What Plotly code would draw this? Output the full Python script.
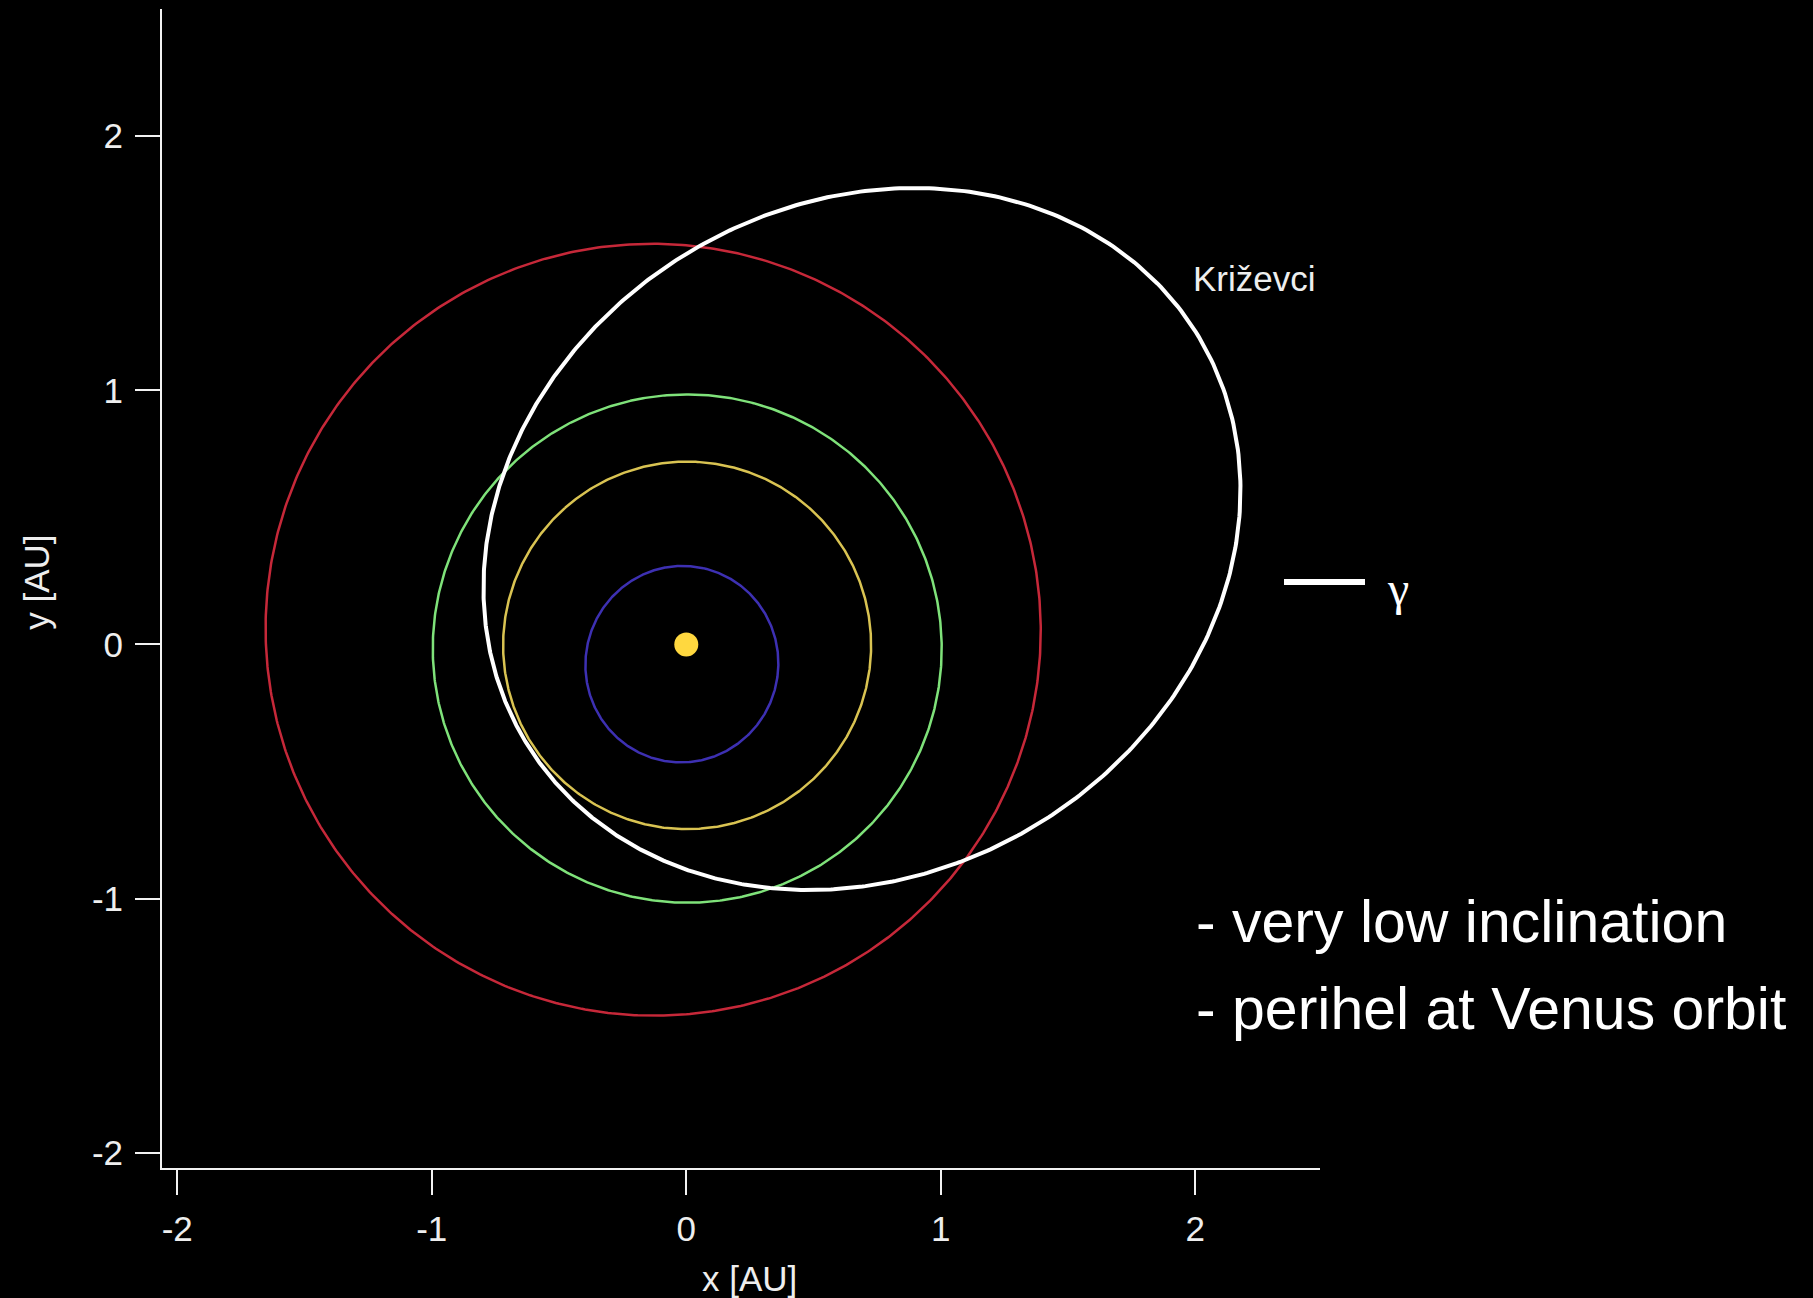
import numpy as np
import plotly.graph_objects as go

# Heliocentric orbits projected on the ecliptic plane (AU)
body_names = ["Mars", "Earth", "Venus", "Mercury", "Križevci"]
semi_major = [1.524, 1.000, 0.723, 0.387, 1.544]          # a [AU]
eccentricity = [0.0934, 0.0167, 0.0068, 0.2056, 0.5216]   # e
perihelion_lon = [336.04, 102.94, 131.53, 77.46, 211.0]   # longitude of perihelion [deg]
orbit_colors = ["#c62839", "#7fe27a", "#d9c352", "#3d30b2", "#ffffff"]
orbit_widths = [2.5, 2.5, 2.5, 2.5, 4]

sun_x = [0.0]
sun_y = [0.0]

tick_vals = [-2, -1, 0, 1, 2]
tick_text = ["-2", "-1", "0", "1", "2"]

notes = ["- very low inclination", "- perihel at Venus orbit"]

AXIS_FONT = dict(family="Liberation Sans, Arial, sans-serif", size=35, color="#eeeeee")
NOTE_FONT = dict(family="Liberation Sans, Arial, sans-serif", size=59, color="#ffffff")


def orbit_xy(a, e, varpi_deg, n=721):
    nu = np.linspace(0.0, 2.0 * np.pi, n)
    r = a * (1.0 - e ** 2) / (1.0 + e * np.cos(nu))
    theta = nu + np.radians(varpi_deg)
    return r * np.cos(theta), r * np.sin(theta)


fig = go.Figure()

for name, a, e, w, col, lw in zip(body_names, semi_major, eccentricity,
                                   perihelion_lon, orbit_colors, orbit_widths):
    ox, oy = orbit_xy(a, e, w)
    fig.add_trace(go.Scatter(x=ox, y=oy, mode="lines", name=name,
                             line=dict(color=col, width=lw), hoverinfo="skip"))

fig.add_trace(go.Scatter(x=sun_x, y=sun_y, mode="markers", name="Sun",
                         marker=dict(color="#ffd83f", size=24, line=dict(width=0))))

axis_common = dict(
    showgrid=False, zeroline=False, showline=True, linecolor="#f2f2f2", linewidth=2,
    ticks="outside", ticklen=25, tickwidth=2, tickcolor="#f2f2f2",
    tickvals=tick_vals, ticktext=tick_text, tickfont=AXIS_FONT,
    fixedrange=True,
)

fig.update_layout(
    width=1813, height=1298,
    margin=dict(l=162, r=493, t=9, b=130),
    paper_bgcolor="#000000", plot_bgcolor="#000000",
    showlegend=False,
    xaxis=dict(range=[-2.06, 2.49], ticklabelstandoff=4, **axis_common),
    yaxis=dict(range=[-2.06, 2.50], ticklabelstandoff=5, **axis_common),
)

# axis titles
fig.add_annotation(text="x [AU]", xref="paper", yref="paper", x=0.507, y=-0.095,
                   xanchor="center", yanchor="middle", showarrow=False, font=AXIS_FONT)
fig.add_annotation(text="y [AU]", xref="paper", yref="paper", x=-0.109, y=0.5056,
                   xanchor="center", yanchor="middle", textangle=-90, showarrow=False,
                   font=AXIS_FONT)

# orbit label
fig.add_annotation(text="Križevci", x=2.233, y=1.439, xref="x", yref="y",
                   xanchor="center", yanchor="middle", showarrow=False, font=AXIS_FONT)

# γ key
fig.add_shape(type="line", xref="paper", yref="paper",
              x0=(1284 - 162) / 1158, x1=(1365 - 162) / 1158,
              y0=(1168 - 582) / 1159, y1=(1168 - 582) / 1159,
              line=dict(color="#ffffff", width=6))
fig.add_annotation(text="γ", xref="paper", yref="paper",
                   x=(1398 - 162) / 1158, y=(1168 - 588) / 1159,
                   xanchor="center", yanchor="middle", showarrow=False,
                   font=dict(family="Liberation Serif, Times New Roman, serif", size=48,
                             color="#ffffff"))

# notes
for txt, yp in zip(notes, [0.2126, 0.1375]):
    fig.add_annotation(text=txt, xref="paper", yref="paper", x=(1194 - 162) / 1158, y=yp,
                       xanchor="left", yanchor="middle", showarrow=False, font=NOTE_FONT)

fig.write_html("out.html", config={"displayModeBar": False})
